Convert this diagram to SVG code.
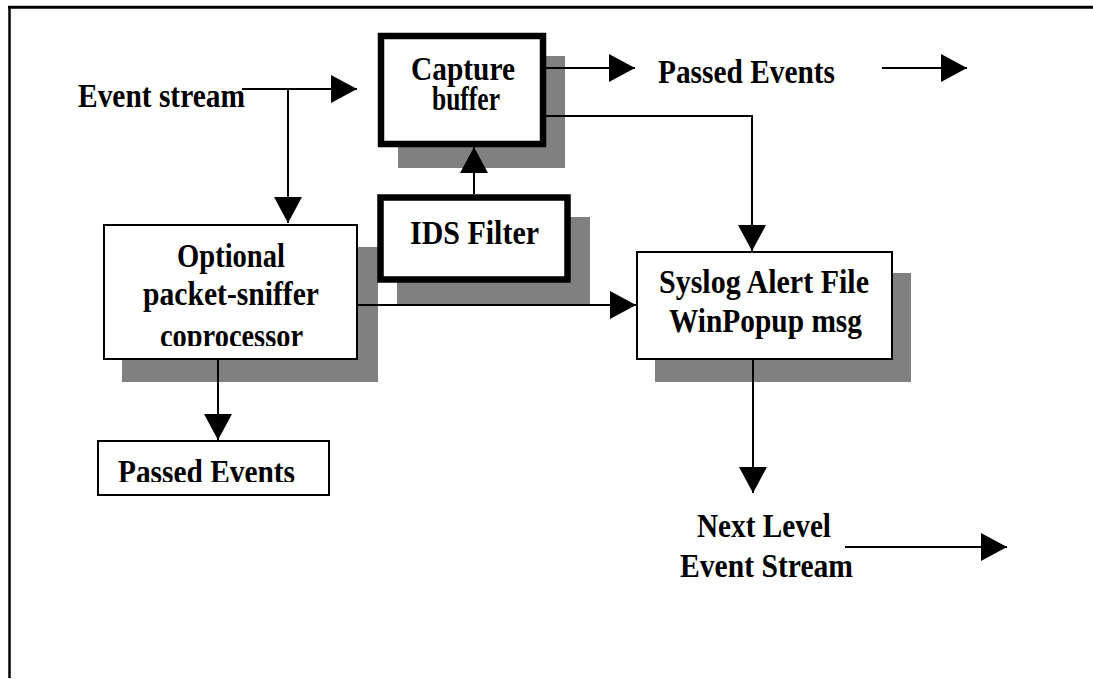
<svg xmlns="http://www.w3.org/2000/svg" width="1093" height="679" viewBox="0 0 1093 679">
<defs>
<style>
.t{font-family:"Liberation Serif","Times New Roman",serif;font-weight:bold;font-size:33px;fill:#000}
.sh{fill:#808080;stroke:none}
.box{fill:#fff;stroke:#000;stroke-width:2}
.thick{fill:#fff;stroke:#000;stroke-width:6.5}
.ln{fill:none;stroke:#000;stroke-width:2}
.ar{marker-end:url(#ah)}
</style>
<marker id="ah" markerUnits="userSpaceOnUse" markerWidth="26" markerHeight="28" refX="26" refY="14" orient="auto">
<path d="M0,0 L26,14 L0,28 Z" fill="#000"/>
</marker>
<clipPath id="clipOpt"><rect x="103" y="224" width="255" height="122"/></clipPath>
<clipPath id="clipPass"><rect x="97" y="440" width="233" height="42"/></clipPath>
</defs>
<rect width="1093" height="679" fill="#fff"/>
<g id="frame">
<line x1="8" y1="7.3" x2="1093" y2="7.3" stroke="#000" stroke-width="3"/>
<line x1="9.5" y1="6" x2="9.5" y2="678" stroke="#000" stroke-width="2.5"/>
</g>
<g id="shadows">
<rect class="sh" x="398" y="56" width="167" height="112"/>
<rect class="sh" x="397" y="217" width="193" height="89"/>
<rect class="sh" x="122" y="247" width="256" height="135"/>
<rect class="sh" x="655" y="273" width="256" height="109"/>
</g>
<g id="capture-buffer">
<rect class="thick" x="381" y="36" width="162" height="108"/>
<text class="t" x="411" y="80" textLength="104" lengthAdjust="spacingAndGlyphs">Capture</text>
<text class="t" x="432" y="110" textLength="68" lengthAdjust="spacingAndGlyphs">buffer</text>
</g>
<g id="ids-filter">
<rect class="thick" x="380.5" y="197.5" width="187" height="82"/>
<text class="t" x="410" y="244" textLength="129" lengthAdjust="spacingAndGlyphs">IDS Filter</text>
</g>
<g id="optional-coprocessor">
<rect class="box" x="104" y="225" width="253" height="134"/>
<text class="t" x="177" y="267" textLength="108" lengthAdjust="spacingAndGlyphs">Optional</text>
<text class="t" x="143" y="305" textLength="176" lengthAdjust="spacingAndGlyphs">packet-sniffer</text>
<text class="t" x="160" y="347" textLength="143" lengthAdjust="spacingAndGlyphs" clip-path="url(#clipOpt)">coprocessor</text>
</g>
<g id="syslog-alert">
<rect class="box" x="637" y="252" width="255" height="107"/>
<text class="t" x="659" y="293" textLength="210" lengthAdjust="spacingAndGlyphs">Syslog Alert File</text>
<text class="t" x="669" y="332" textLength="193" lengthAdjust="spacingAndGlyphs">WinPopup msg</text>
</g>
<g id="passed-events-box">
<rect class="box" x="98" y="441" width="231" height="54"/>
<text class="t" x="118" y="483" textLength="177" lengthAdjust="spacingAndGlyphs" clip-path="url(#clipPass)">Passed Events</text>
</g>
<g id="labels">
<text class="t" x="78" y="107" textLength="167" lengthAdjust="spacingAndGlyphs">Event stream</text>
<text class="t" x="658" y="83" textLength="177" lengthAdjust="spacingAndGlyphs">Passed Events</text>
<text class="t" x="697" y="537" textLength="134" lengthAdjust="spacingAndGlyphs">Next Level</text>
<text class="t" x="680" y="577" textLength="173" lengthAdjust="spacingAndGlyphs">Event Stream</text>
</g>
<g id="connectors">
<path class="ln ar" d="M242,89 H357"/>
<path class="ln ar" d="M288,89 V223"/>
<path class="ln ar" d="M474,194 V147"/>
<path class="ln ar" d="M546,68 H635"/>
<path class="ln ar" d="M882,68 H967"/>
<path class="ln ar" d="M546,116 H752 V251"/>
<path class="ln ar" d="M358,305 H636"/>
<path class="ln ar" d="M218,360 V440"/>
<path class="ln ar" d="M753,360 V493"/>
<path class="ln ar" d="M845,547 H1007"/>
</g>
</svg>
